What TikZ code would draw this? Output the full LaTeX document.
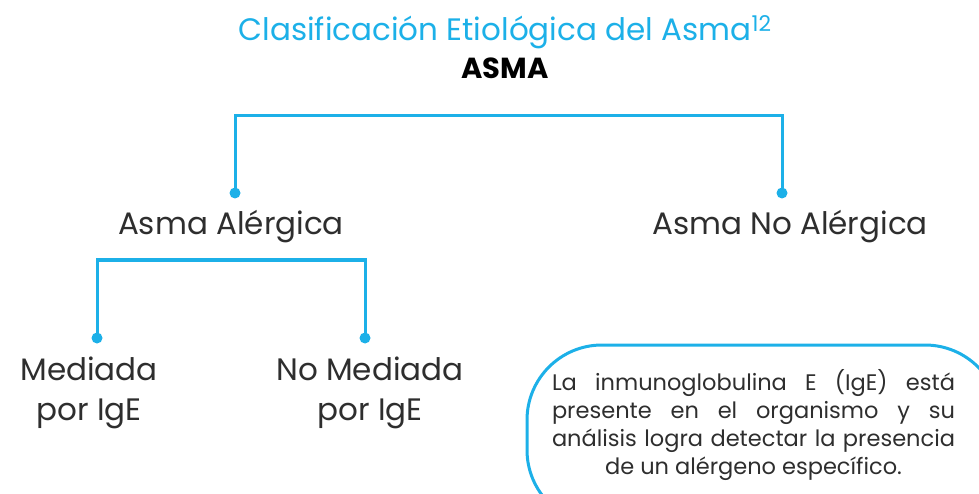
\documentclass[tikz,border=0pt]{standalone}
\usepackage{fontspec}
\setmainfont{Poppins}
\usepackage{tikz}
\usetikzlibrary{positioning,calc}
\definecolor{asmablue}{HTML}{1CB0E8}
\definecolor{asmatext}{HTML}{2E2E2E}

\begin{document}
\begin{tikzpicture}[x=1pt, y=-1pt,
  branch/.style={line width=3pt, asmablue},
  leaf/.style={font=\fontsize{31}{40}\selectfont, text=asmatext, align=center, inner sep=0pt},
  dot/.style={circle, fill=asmablue, inner sep=0pt, minimum size=11pt}]
  \clip (0,0) rectangle (979,494);
  \useasboundingbox (0,0) rectangle (979,494);
  % Title
  \node[font=\fontsize{31}{36}\selectfont, text=asmablue, inner sep=0pt] (titulo) at (505,32)
    {Clasificación Etiológica del Asma\textsuperscript{12}};
  \node[font=\fontsize{29}{34}\bfseries, inner sep=0pt] (asma) at (505,68) {ASMA};
  % First level
  \node[leaf] (alerg) at (231,227) {Asma Alérgica};
  \node[leaf] (noalerg) at (790,227) {Asma No Alérgica};
  \coordinate (d1) at (235,193);
  \coordinate (d2) at (782,193);
  \coordinate (top1) at (505,116);
  \draw[branch] (d1) |- (top1) -| (d2);
  \node[dot] at (d1) {};
  \node[dot] at (d2) {};
  % Second level
  \node[leaf] (med) at (89,393) {Mediada\\por IgE};
  \node[leaf] (nomed) at (370,393) {No Mediada\\por IgE};
  \coordinate (d3) at (97,338);
  \coordinate (d4) at (365,338);
  \coordinate (top2) at (231,260);
  \draw[branch] (d3) |- (top2) -| (d4);
  \node[dot] at (d3) {};
  \node[dot] at (d4) {};
  % Note box
  \draw[line width=3pt, asmablue, rounded corners=75pt] (527,345) rectangle (1000,525);
  \node[font=\fontsize{22.5}{28.2}\selectfont, text=asmatext, text width=403pt, align=justify, inner sep=0pt]
    (nota) at (753.5,425)
    {\parfillskip=0pt La inmunoglobulina E (IgE) está\linebreak presente en el organismo y su\linebreak
     análisis logra detectar la presencia\par
     {\centering de un alérgeno específico.\par}};
\end{tikzpicture}
\end{document}
